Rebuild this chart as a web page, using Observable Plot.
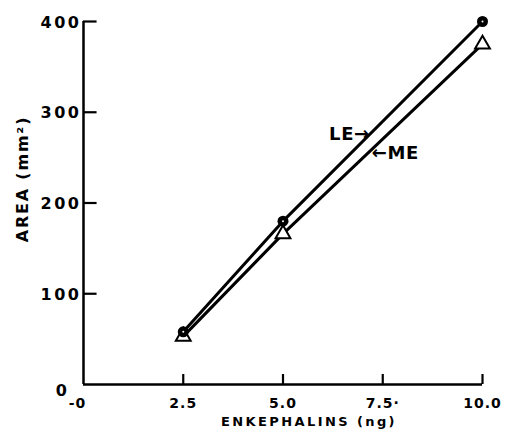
<!DOCTYPE html>
<html>
<head>
<meta charset="utf-8">
<script src="https://cdn.jsdelivr.net/npm/d3@7"></script>
<script src="https://cdn.jsdelivr.net/npm/@observablehq/plot@0.6"></script>
<style>
  html, body { margin: 0; padding: 0; background: #fff; }
  svg text { letter-spacing: 0.6px; }
  svg .ytl text { letter-spacing: 2.5px; }
  svg .xtl text { letter-spacing: 1px; }
  svg .xlab text { letter-spacing: 2.4px; }
  svg .ylab text { letter-spacing: 1.8px; }
</style>
</head>
<body>
<div id="chart"></div>
<script>
// Data
const doses = [2.5, 5.0, 10.0];            // ng
const leArea = [58, 180, 400];             // LE, mm²
const meArea = [53, 166, 375];             // ME, mm²

const xTicks = [2.5, 5.0, 7.5, 10.0];
const xTickLabels = ["2.5", "5.0", "7.5·", "10.0"];
const yTicks = [100, 200, 300, 400];
const yTickLabels = ["100", "200", "300", "400"];

const xLabel = "ENKEPHALINS (ng)";
const yLabel = "AREA (mm²)";

const leRows = doses.map((d, i) => ({dose: d, area: leArea[i]}));
const meRows = doses.map((d, i) => ({dose: d, area: meArea[i]}));
const xTickRows = xTicks.map((v, i) => ({v, label: xTickLabels[i]}));
const yTickRows = yTicks.map((v, i) => ({v, label: yTickLabels[i]}));

// annotation anchors on the lines (interpolated along each drawn series)
const annX = 7.2;
const interp = (arr) => arr[1] + (arr[2] - arr[1]) * (annX - doses[1]) / (doses[2] - doses[1]);

const chart = Plot.plot({
  width: 507,
  height: 435,
  marginLeft: 83,
  marginRight: 25,
  marginTop: 21,
  marginBottom: 51,
  x: {domain: [0, 10], axis: null},
  y: {domain: [0, 400], axis: null},
  style: {fontFamily: "DejaVu Sans", background: "#fff", color: "#000", overflow: "visible"},
  marks: [
    // axes lines
    Plot.ruleX([0], {stroke: "#000", strokeWidth: 2.5}),
    Plot.ruleY([0], {stroke: "#000", strokeWidth: 2.5}),
    // inward ticks
    Plot.ruleY(yTicks, {x1: 0, x2: 0.34, stroke: "#000", strokeWidth: 2.2}),
    Plot.ruleX(xTicks, {y1: 0, y2: 11, stroke: "#000", strokeWidth: 2.2}),
    // y tick labels
    Plot.text(yTickRows, {x: 0, y: "v", text: "label", textAnchor: "end", dx: -2, dy: 1,
      fontSize: 16, fontWeight: "bold", fill: "#000", className: "ytl"}),
    Plot.text(["0"], {x: 0, y: 0, text: d => d, textAnchor: "end", dx: -14, dy: 6,
      fontSize: 16, fontWeight: "bold", fill: "#000", className: "ytl"}),
    // x tick labels
    Plot.text(xTickRows, {x: "v", y: 0, text: "label", dy: 19,
      fontSize: 14, fontWeight: "bold", fill: "#000", className: "xtl"}),
    Plot.text(["-0"], {x: 0, y: 0, text: d => d, dx: -6, dy: 19,
      fontSize: 14, fontWeight: "bold", fill: "#000", className: "xtl"}),
    // axis titles
    Plot.text([xLabel], {frameAnchor: "bottom", text: d => d, dx: 26, dy: 41,
      fontSize: 13, fontWeight: "bold", fill: "#000", className: "xlab"}),
    Plot.text([yLabel], {frameAnchor: "left", textAnchor: "middle", text: d => d, rotate: -90, dx: -61, dy: -24,
      fontSize: 16, fontWeight: "bold", fill: "#000", className: "ylab"}),
    // data lines
    Plot.line(leRows, {x: "dose", y: "area", stroke: "#000", strokeWidth: 3, strokeLinejoin: "round"}),
    Plot.line(meRows, {x: "dose", y: "area", stroke: "#000", strokeWidth: 3, strokeLinejoin: "round"}),
    // markers
    Plot.dot(meRows, {x: "dose", y: "area", symbol: "triangle", r: 5.5, fill: "#fff", stroke: "#000", strokeWidth: 2}),
    Plot.dot(leRows, {x: "dose", y: "area", r: 5.5, fill: "#000"}),
    Plot.dot(leRows, {x: "dose", y: "area", r: 1, fill: "#fff"}),
    // annotations
    Plot.text(["LE→"], {x: annX, y: interp(leArea), text: d => d, textAnchor: "end", dx: -1, dy: 1,
      fontSize: 18, fontWeight: "bold", fill: "#000"}),
    Plot.text(["←ME"], {x: annX, y: interp(meArea), text: d => d, textAnchor: "start", dx: 1, dy: 3,
      fontSize: 18, fontWeight: "bold", fill: "#000"})
  ]
});
document.getElementById("chart").appendChild(chart);
</script>
</body>
</html>
